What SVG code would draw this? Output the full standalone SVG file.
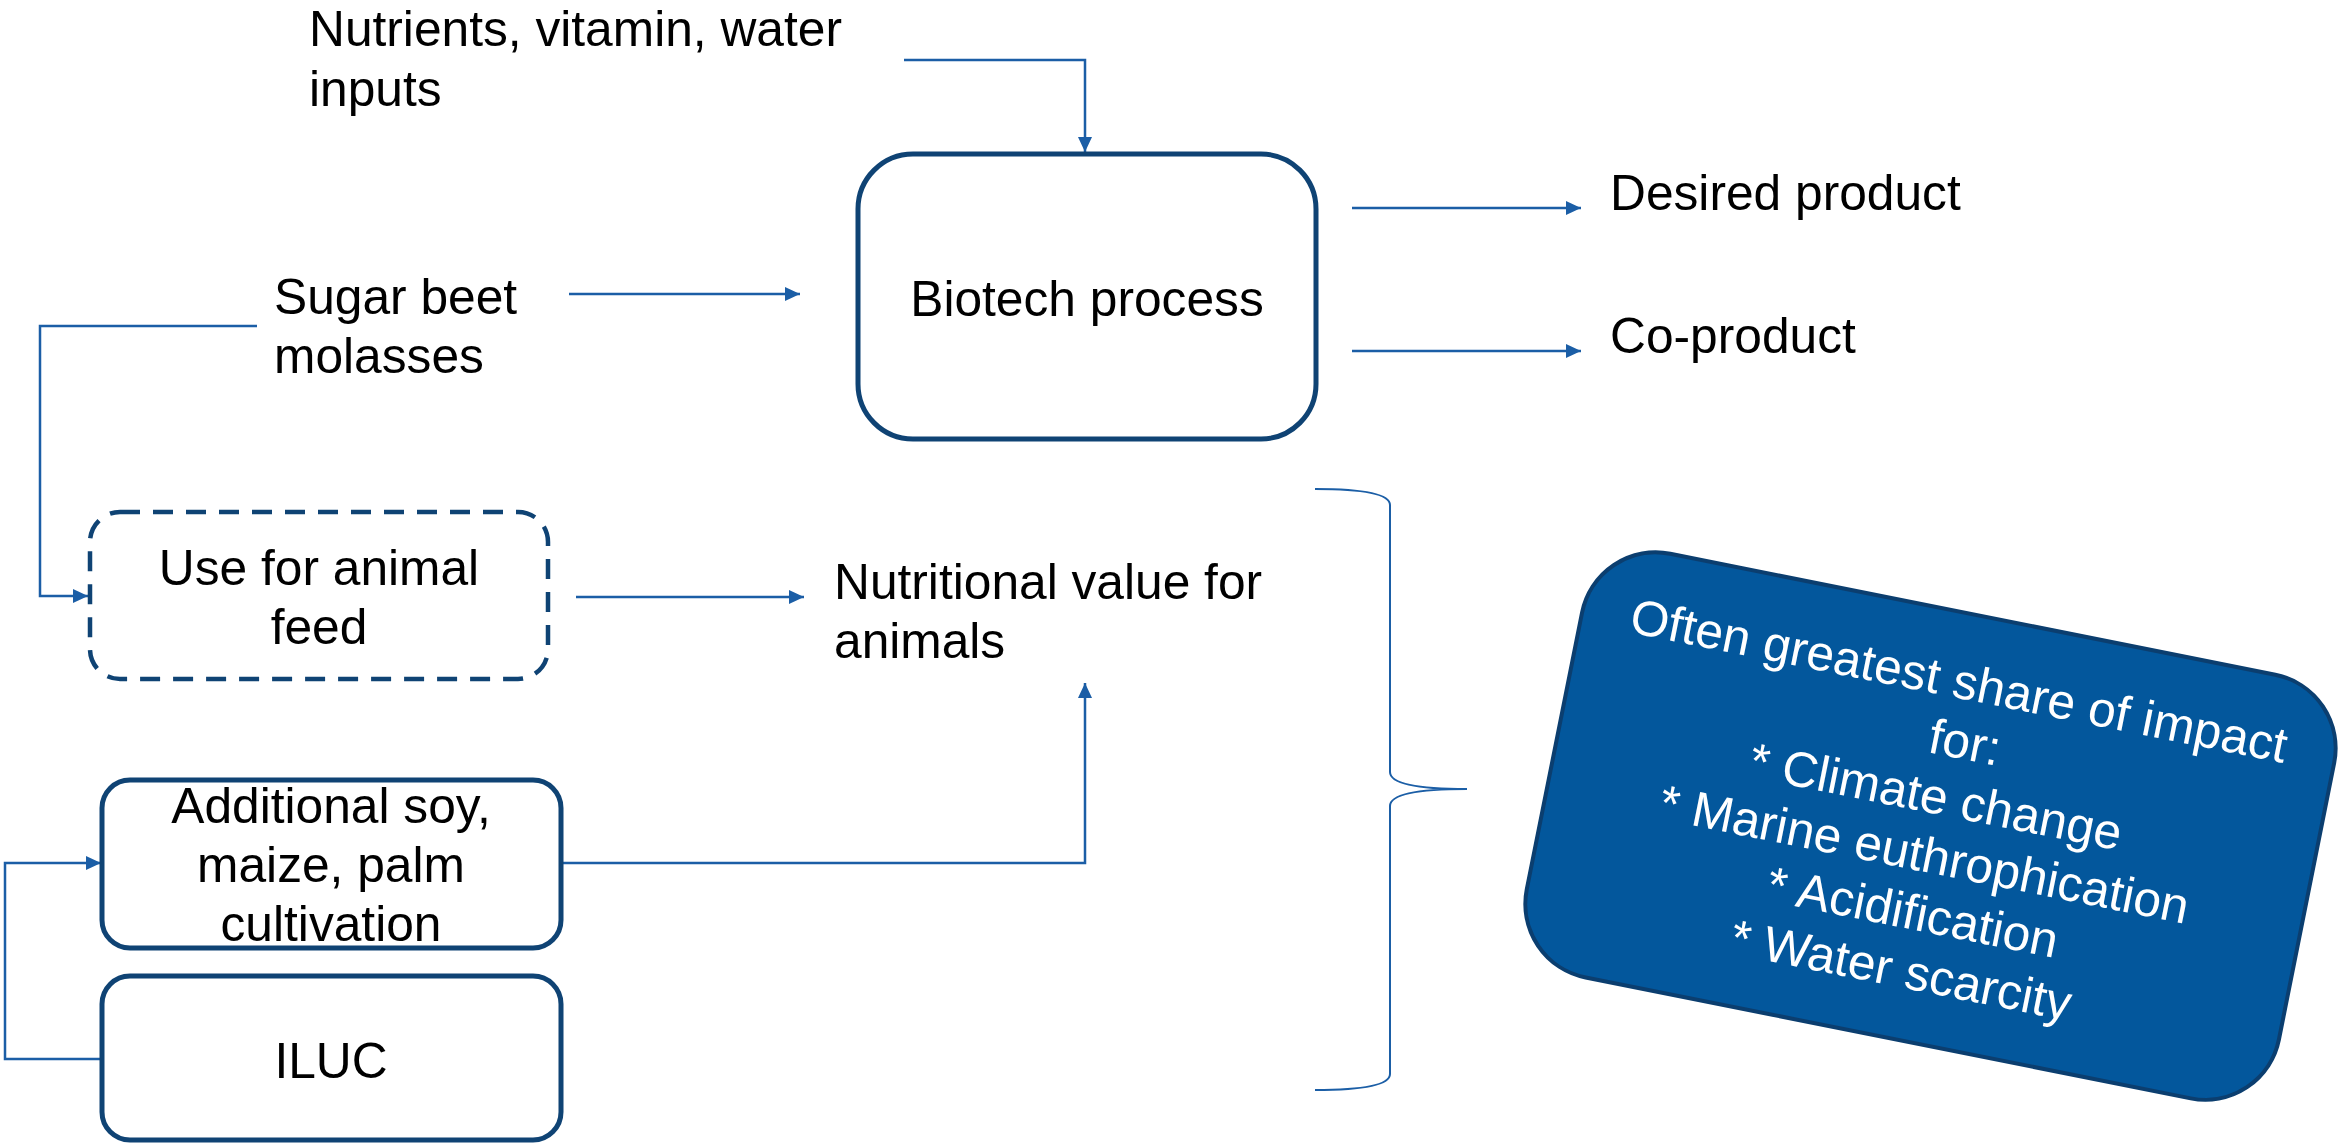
<svg xmlns="http://www.w3.org/2000/svg" width="2343" height="1143" viewBox="0 0 2343 1143">
  <defs>
    <marker id="arrow" markerUnits="userSpaceOnUse" markerWidth="16" markerHeight="15" refX="15" refY="7" orient="auto">
      <path d="M0,0 L15,7 L0,14 z" fill="#1B5EA6"/>
    </marker>
  </defs>
  <style>
    .lbl { font-family: "Liberation Sans", Arial, sans-serif; font-size: 49.7px; fill: #000; }
    .mid { text-anchor: middle; }
    .box { fill: #fff; stroke: #0F4374; stroke-width: 5; }
    .dash { fill: #fff; stroke: #0F4374; stroke-width: 4.5; stroke-dasharray: 20 13; }
    .conn { fill: none; stroke: #1B5EA6; stroke-width: 2.5; }
    .brace { fill: none; stroke: #1B5EA6; stroke-width: 2; }
    .note { fill: #03579C; stroke: #0B3E6F; stroke-width: 4; }
    .white { font-family: "Liberation Sans", Arial, sans-serif; font-size: 49.7px; fill: #fff; text-anchor: middle; }
  </style>
  <rect width="2343" height="1143" fill="#fff"/>

  <!-- connectors -->
  <g id="connectors">
    <path class="conn" d="M904,60 H1085 V152" marker-end="url(#arrow)"/>
    <path class="conn" d="M569,294 H800" marker-end="url(#arrow)"/>
    <path class="conn" d="M257,326 H40 V596 H88" marker-end="url(#arrow)"/>
    <path class="conn" d="M576,597 H804" marker-end="url(#arrow)"/>
    <path class="conn" d="M1352,208 H1581" marker-end="url(#arrow)"/>
    <path class="conn" d="M1352,351 H1581" marker-end="url(#arrow)"/>
    <path class="conn" d="M561,863 H1085 V683" marker-end="url(#arrow)"/>
    <path class="conn" d="M102,1059 H5 V863 H101" marker-end="url(#arrow)"/>
    <path class="brace" d="M1315,489 C1360,489 1390,493 1390,505 V772 C1390,784 1420,789 1467,789 C1420,789 1390,794 1390,806 V1074 C1390,1086 1360,1090 1315,1090"/>
  </g>

  <!-- text-only nodes -->
  <g id="nutrients">
    <text class="lbl" x="309" y="46">Nutrients, vitamin, water</text>
    <text class="lbl" x="309" y="106">inputs</text>
  </g>
  <g id="molasses">
    <text class="lbl" x="274" y="314">Sugar beet</text>
    <text class="lbl" x="274" y="373">molasses</text>
  </g>
  <g id="desired">
    <text class="lbl" x="1610" y="210">Desired product</text>
  </g>
  <g id="coproduct">
    <text class="lbl" x="1610" y="353">Co-product</text>
  </g>
  <g id="nutritional">
    <text class="lbl" x="834" y="599">Nutritional value for</text>
    <text class="lbl" x="834" y="658">animals</text>
  </g>

  <!-- boxed nodes -->
  <g id="biotech">
    <rect class="box" x="858" y="154" width="458" height="285" rx="55"/>
    <text class="lbl mid" x="1087" y="316">Biotech process</text>
  </g>
  <g id="animal-feed">
    <rect class="dash" x="90" y="512" width="458" height="167" rx="30"/>
    <text class="lbl mid" x="319" y="585">Use for animal</text>
    <text class="lbl mid" x="319" y="644">feed</text>
  </g>
  <g id="additional">
    <rect class="box" x="102" y="780" width="459" height="168" rx="28"/>
    <text class="lbl mid" x="331" y="823">Additional soy,</text>
    <text class="lbl mid" x="331" y="882">maize, palm</text>
    <text class="lbl mid" x="331" y="941">cultivation</text>
  </g>
  <g id="iluc">
    <rect class="box" x="102" y="976" width="459" height="164" rx="28"/>
    <text class="lbl mid" x="331" y="1078">ILUC</text>
  </g>

  <!-- tilted impact note -->
  <g id="impact" transform="translate(1930,826) rotate(11.3)">
    <rect class="note" x="-383" y="-216" width="767" height="432" rx="75"/>
    <text class="white" x="0" y="-131">Often greatest share of impact</text>
    <text class="white" x="18" y="-72">for:</text>
    <text class="white" x="0" y="-13">* Climate change</text>
    <text class="white" x="0" y="46">* Marine euthrophication</text>
    <text class="white" x="0" y="105">* Acidification</text>
    <text class="white" x="0" y="164">* Water scarcity</text>
  </g>
</svg>
